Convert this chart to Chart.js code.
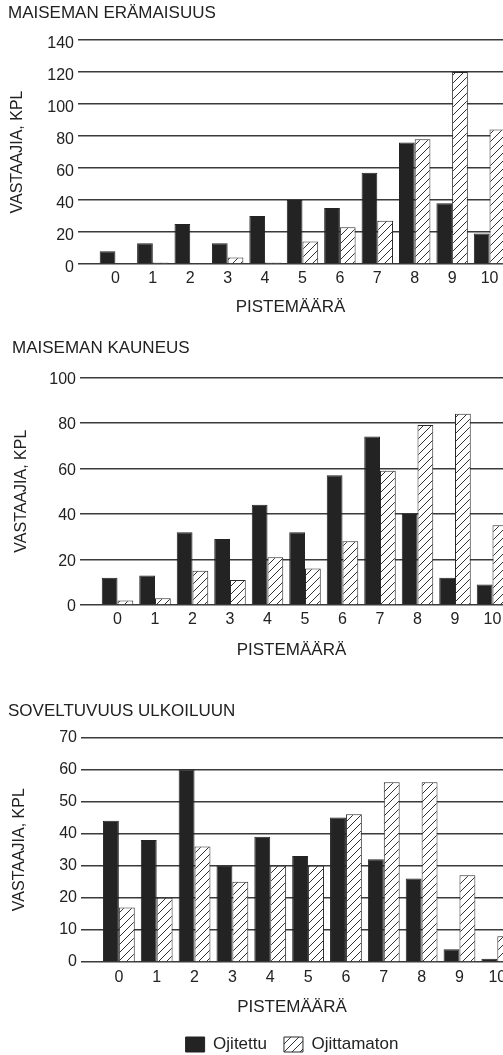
<!DOCTYPE html>
<html>
<head>
<meta charset="utf-8">
<script src="https://cdn.jsdelivr.net/npm/chart.js@4.4.0/dist/chart.umd.min.js"></script>
<style>
  html, body { margin: 0; padding: 0; background: #fff; overflow: hidden; }
  canvas { position: absolute; left: 0; }
</style>
</head>
<body>
<canvas id="c1" width="503" height="321" style="top:0px"></canvas>
<canvas id="c2" width="503" height="343" style="top:321px"></canvas>
<canvas id="c3" width="503" height="391" style="top:664px"></canvas>
<script>
var pisteet = [0, 1, 2, 3, 4, 5, 6, 7, 8, 9, 10];

var eramaisuusOjitettu = [8, 13, 25, 13, 30, 40, 35, 57, 76, 38, 19];
var eramaisuusOjittamaton = [0, 1, 0, 4, 1, 14, 23, 27, 78, 120, 84];

var kauneusOjitettu = [12, 13, 32, 29, 44, 32, 57, 74, 40, 12, 9];
var kauneusOjittamaton = [2, 3, 15, 11, 21, 16, 28, 59, 79, 84, 35];

var ulkoiluOjitettu = [44, 38, 60, 30, 39, 33, 45, 32, 26, 4, 1];
var ulkoiluOjittamaton = [17, 20, 36, 25, 30, 30, 46, 56, 56, 27, 8];

Chart.defaults.font.family = "'Liberation Sans', Arial, sans-serif";
Chart.defaults.color = '#222';

// vinoviivoitus ojittamattomille pylväille
function viivoitus(ctx) {
    var c = document.createElement('canvas');
    c.width = 8; c.height = 8;
    var g = c.getContext('2d');
    g.fillStyle = '#fff';
    g.fillRect(0, 0, 8, 8);
    g.strokeStyle = '#333';
    g.lineWidth = 1;
    g.beginPath();
    g.moveTo(0, 8); g.lineTo(8, 0);
    g.moveTo(-1, 1); g.lineTo(1, -1);
    g.moveTo(7, 9); g.lineTo(9, 7);
    g.stroke();
    return ctx.createPattern(c, 'repeat');
}

function piirra(id, otsikko, ojitettu, ojittamaton, yMax, yStep, s) {
    var ctx = document.getElementById(id).getContext('2d');
    return new Chart(ctx, {
        type: 'bar',
        data: {
            datasets: [{
                label: 'Ojitettu',
                data: pisteet.map(function (x, i) { return { x: x, y: ojitettu[i] }; }),
                backgroundColor: '#232323',
                borderColor: '#232323',
                borderWidth: 1,
                categoryPercentage: 0.84,
                barPercentage: 1
            }, {
                label: 'Ojittamaton',
                data: pisteet.map(function (x, i) { return { x: x, y: ojittamaton[i] }; }),
                backgroundColor: viivoitus(ctx),
                borderColor: '#2a2a2a',
                borderWidth: 1,
                categoryPercentage: 0.84,
                barPercentage: 1
            }]
        },
        options: {
            responsive: false,
            animation: false,
            layout: { padding: { left: s.left, top: 0, right: 0, bottom: 0 } },
            plugins: {
                title: {
                    display: true,
                    text: otsikko,
                    align: 'start',
                    color: '#222',
                    font: { size: 17, weight: 'normal' },
                    padding: s.titlePad
                },
                legend: s.legend ? s.legend : { display: false },
                tooltip: { enabled: false }
            },
            scales: {
                x: {
                    type: 'linear',
                    min: -1,
                    max: s.xMax,
                    offset: false,
                    afterBuildTicks: function (a) {
                        a.ticks = pisteet.map(function (v) { return { value: v }; });
                    },
                    afterFit: function (a) {
                        a.height = s.xHeight;
                        a.paddingLeft = 0;
                        a.paddingRight = 0;
                    },
                    grid: { display: false, drawTicks: false },
                    border: { display: false },
                    ticks: { padding: s.xTickPad, font: { size: 16 }, color: '#222', maxRotation: 0, autoSkip: false },
                    title: {
                        display: true,
                        text: 'PISTEMÄÄRÄ',
                        color: '#222',
                        font: { size: 17 },
                        padding: { top: 0, bottom: s.xTitlePad }
                    }
                },
                y: {
                    min: 0,
                    max: yMax,
                    afterFit: function (a) { a.width = s.yWidth; },
                    ticks: { stepSize: yStep, padding: 4, labelOffset: s.labelOffset, font: { size: 16 }, color: '#222' },
                    grid: { color: '#3a3a3a', lineWidth: 1.5, drawTicks: false },
                    border: { display: false },
                    title: {
                        display: true,
                        text: 'VASTAAJIA, KPL',
                        color: '#222',
                        font: { size: 16 },
                        padding: { top: s.yTitlePad, bottom: 0 }
                    }
                }
            }
        }
    });
}

piirra('c1', 'MAISEMAN ERÄMAISUUS', eramaisuusOjitettu, eramaisuusOjittamaton, 140, 20, {
    left: 8, titlePad: { top: 3.3, bottom: 16.3 }, yWidth: 70, xHeight: 57,
    xTickPad: 5, xTitlePad: 3.3, xMax: 10.36, labelOffset: 4, yTitlePad: 0.4
});

piirra('c2', 'MAISEMAN KAUNEUS', kauneusOjitettu, kauneusOjittamaton, 100, 20, {
    left: 12, titlePad: { top: 17.3, bottom: 18.6 }, yWidth: 68, xHeight: 59,
    xTickPad: 5.4, xTitlePad: 3.8, xMax: 10.28, labelOffset: 2, yTitlePad: 0
});

piirra('c3', 'SOVELTUVUUS ULKOILUUN', ulkoiluOjitettu, ulkoiluOjittamaton, 70, 10, {
    left: 8, titlePad: { top: 36.8, bottom: 16.1 }, yWidth: 73, xHeight: 57,
    xTickPad: 6, xTitlePad: 1.3, xMax: 10.15, labelOffset: 0, yTitlePad: 1.7,
    legend: {
        display: true,
        position: 'bottom',
        fullSize: false,
        maxHeight: 36,
        align: 'center',
        labels: { boxWidth: 19, boxHeight: 15, padding: 17, color: '#222', font: { size: 17 } }
    }
});
</script>
</body>
</html>
